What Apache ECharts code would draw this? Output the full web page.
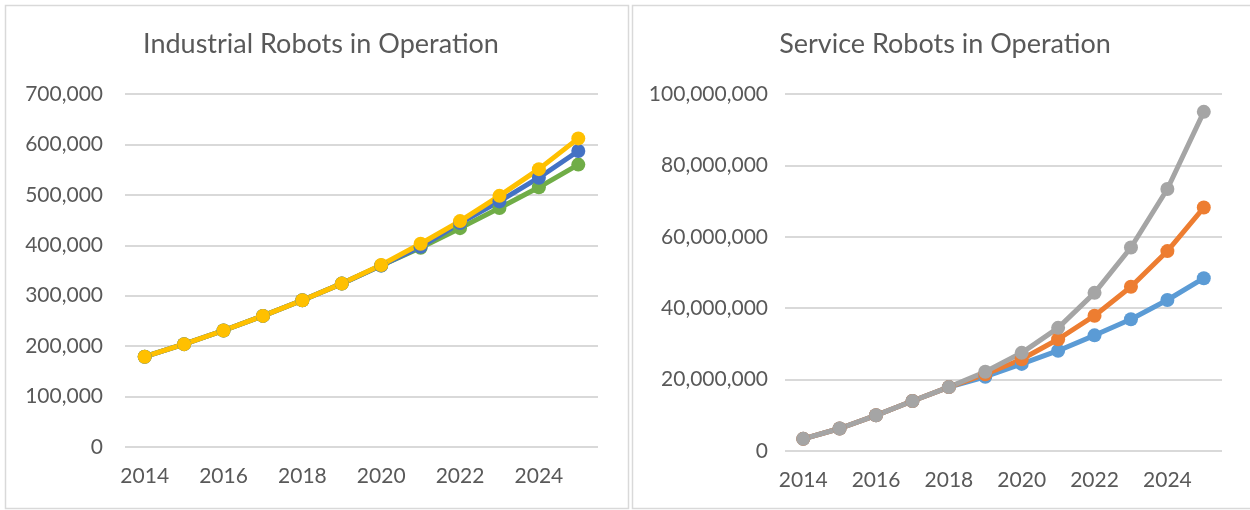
<!DOCTYPE html>
<html><head><meta charset="utf-8">
<script src="https://cdn.jsdelivr.net/npm/echarts@6/dist/echarts.min.js"></script>
<style>html,body{margin:0;padding:0;background:#fff}#c{width:1250px;height:510px}</style>
</head><body><div id="c"></div>
<script>
const years = ['2014','2015','2016','2017','2018','2019','2020','2021','2022','2023','2024','2025'];
const industrialBlue   = [179000,204000,231000,260000,291000,324000,360000,397000,444000,487000,534000,587000];
const industrialGreen  = [179000,204000,231000,260000,291000,324000,360000,395000,434000,474000,515000,560000];
const industrialYellow = [179000,204000,231000,260000,291000,324000,361000,403000,448000,498000,551000,612000];
const serviceBlue   = [3400000,6300000,10000000,14000000,17900000,20800000,24400000,28100000,32400000,36900000,42300000,48400000];
const serviceOrange = [3400000,6300000,10000000,14000000,17900000,21500000,25700000,31300000,37900000,46000000,56000000,68200000];
const serviceGray   = [3400000,6300000,10000000,14000000,17900000,22200000,27500000,34500000,44300000,57000000,73400000,95000000];

const FONT = 'Lato, "Open Sans", sans-serif';
const TXT = '#595959';
const fmt = v => v.toLocaleString('en-US');

function xAxis(gi){
  return {type:'category', gridIndex:gi, data:years, boundaryGap:true,
    axisLine:{show:false}, axisTick:{show:false},
    axisLabel:{interval:1, color:TXT, fontFamily:FONT, fontSize:21, margin:19}};
}
function yAxis(gi, max, interval, margin){
  return {type:'value', gridIndex:gi, min:0, max:max, interval:interval,
    axisLine:{show:false}, axisTick:{show:false},
    splitLine:{lineStyle:{color:'#D9D9D9', width:2}},
    axisLabel:{color:TXT, fontFamily:FONT, fontSize:21, margin:margin, formatter:fmt}};
}
function line(name, data, color, gi){
  return {name, type:'line', xAxisIndex:gi, yAxisIndex:gi, data,
    symbol:'circle', symbolSize:14, lineStyle:{color, width:5}, itemStyle:{color},
    emphasis:{disabled:true}, animation:false};
}

const chart = echarts.init(document.getElementById('c'), null, {renderer:'canvas'});
chart.setOption({
  animation:false,
  graphic:[
    {type:'rect', shape:{x:5.5,y:5.5,width:623,height:503}, style:{fill:'none', stroke:'#D9D9D9', lineWidth:1.5}, silent:true},
    {type:'rect', shape:{x:632.5,y:5.5,width:620,height:503}, style:{fill:'none', stroke:'#D9D9D9', lineWidth:1.5}, silent:true}
  ],
  title:[
    {text:'Industrial Robots in Operation', left:316, top:26, textAlign:'center',
     textStyle:{color:TXT, fontFamily:FONT, fontSize:27, fontWeight:'normal'}},
    {text:'Service Robots in Operation', left:940, top:26, textAlign:'center',
     textStyle:{color:TXT, fontFamily:FONT, fontSize:27, fontWeight:'normal'}}
  ],
  grid:[
    {left:125, top:94, width:473, height:353},
    {left:785, top:94, width:437, height:357}
  ],
  xAxis:[xAxis(0), xAxis(1)],
  yAxis:[yAxis(0,700000,100000,22), yAxis(1,100000000,20000000,17)],
  series:[
    line('Green', industrialGreen, '#70AD47', 0),
    line('Blue', industrialBlue, '#4472C4', 0),
    line('Yellow', industrialYellow, '#FFC000', 0),
    line('Blue', serviceBlue, '#5B9BD5', 1),
    line('Orange', serviceOrange, '#ED7D31', 1),
    line('Gray', serviceGray, '#A5A5A5', 1)
  ]
});
</script></body></html>
